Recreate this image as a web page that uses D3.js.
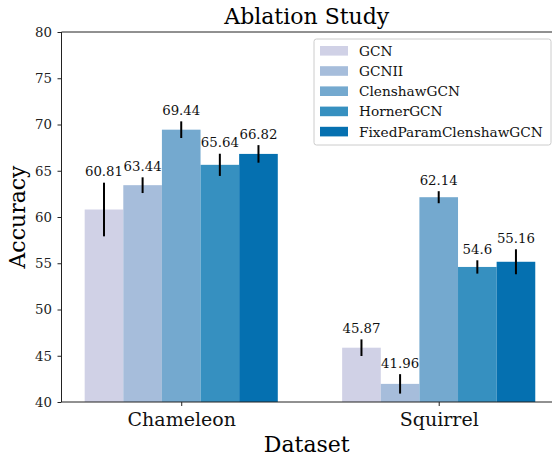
<!DOCTYPE html>
<html>
<head>
<meta charset="utf-8">
<script src="https://cdn.jsdelivr.net/npm/d3@7"></script>
<style>
  body { margin: 0; background: #fff; }
  svg text { font-family: "DejaVu Serif", serif; }
</style>
</head>
<body>
<div id="chart"></div>
<script>
(function() {
  var datasets = ["Chameleon", "Squirrel"];
  var models = ["GCN", "GCNII", "ClenshawGCN", "HornerGCN", "FixedParamClenshawGCN"];
  var colors = ["#d0d1e6", "#a6bddb", "#74a9cf", "#3690c0", "#0570b0"];
  // accuracy per model, one value per dataset
  var means = [
    [60.81, 45.87],
    [63.44, 41.96],
    [69.44, 62.14],
    [65.64, 54.6],
    [66.82, 55.16]
  ];
  var stds = [
    [2.9, 0.9],
    [0.85, 1.05],
    [0.9, 0.65],
    [1.2, 0.72],
    [0.95, 1.35]
  ];
  var yTicks = [40, 45, 50, 55, 60, 65, 70, 75, 80];

  var width = 553, height = 457;
  var margin = {top: 32, right: 1, bottom: 55, left: 61.5};

  var svg = d3.select("#chart").append("svg")
      .attr("width", width)
      .attr("height", height);

  // category index -> pixel; groups sit at 0 and 1
  var x = d3.scaleLinear()
      .domain([-0.465, 1.44])
      .range([margin.left, width - margin.right]);
  var y = d3.scaleLinear()
      .domain([40, 80])
      .range([height - margin.bottom, margin.top]);

  var barW = 0.15;

  var rows = [];
  models.forEach(function(m, i) {
    datasets.forEach(function(ds, j) {
      rows.push({model: i, ds: j, value: means[i][j], err: stds[i][j]});
    });
  });
  var off = function(d) { return d.ds + (d.model - 2) * barW; };

  svg.selectAll(".bar")
    .data(rows)
    .enter().append("rect")
      .attr("class", "bar")
      .attr("x", function(d) { return x(off(d) - barW / 2); })
      .attr("width", function(d) { return x(off(d) + barW / 2) - x(off(d) - barW / 2); })
      .attr("y", function(d) { return y(d.value); })
      .attr("height", function(d) { return y(40) - y(d.value); })
      .attr("fill", function(d) { return colors[d.model]; });

  svg.selectAll(".err")
    .data(rows)
    .enter().append("line")
      .attr("class", "err")
      .attr("x1", function(d) { return x(off(d)); })
      .attr("x2", function(d) { return x(off(d)); })
      .attr("y1", function(d) { return y(d.value - d.err); })
      .attr("y2", function(d) { return y(d.value + d.err); })
      .attr("stroke", "#000")
      .attr("stroke-width", 2);

  svg.selectAll(".val")
    .data(rows)
    .enter().append("text")
      .attr("class", "val")
      .attr("x", function(d) { return x(off(d)); })
      .attr("y", function(d) { return y(d.value + d.err) - 6.5; })
      .attr("text-anchor", "middle")
      .style("font-size", "13.3px")
      .attr("fill", "#111")
      .text(function(d) { return d.value; });

  // axes
  var yAxis = svg.append("g")
      .attr("transform", "translate(" + margin.left + ",0)")
      .call(d3.axisLeft(y).tickValues(yTicks).tickSize(4).tickPadding(5.5));
  var xAxis = svg.append("g")
      .attr("transform", "translate(0," + (height - margin.bottom) + ")")
      .call(d3.axisBottom(x).tickValues([0, 1]).tickSize(4)
        .tickFormat(function(d) { return datasets[d]; }));

  yAxis.select(".domain").remove();
  xAxis.select(".domain").remove();
  yAxis.selectAll("text").style("font-size", "13.3px").attr("fill", "#222");
  xAxis.selectAll("text").style("font-size", "19px").attr("fill", "#111")
      .attr("dy", null).attr("y", 24);
  svg.selectAll(".tick line").attr("stroke", "#222");

  // spines
  var x0 = margin.left, x1 = width - margin.right, yb = y(40), yt = y(80);
  svg.append("line").attr("x1", x0).attr("x2", x0).attr("y1", yt).attr("y2", yb)
      .attr("stroke", "#222").attr("stroke-width", 1);
  svg.append("line").attr("x1", x0).attr("x2", x1).attr("y1", yb).attr("y2", yb)
      .attr("stroke", "#222").attr("stroke-width", 1);
  svg.append("line").attr("x1", x0).attr("x2", x1).attr("y1", yt).attr("y2", yt)
      .attr("stroke", "#222").attr("stroke-width", 1);

  // titles
  svg.append("text")
      .attr("x", (x0 + x1) / 2).attr("y", 23.5)
      .attr("text-anchor", "middle")
      .style("font-size", "22px")
      .text("Ablation Study");
  svg.append("text")
      .attr("x", (x0 + x1) / 2).attr("y", 451.5)
      .attr("text-anchor", "middle")
      .style("font-size", "22px")
      .text("Dataset");
  svg.append("text")
      .attr("transform", "translate(25," + ((yt + yb) / 2) + ") rotate(-90)")
      .attr("text-anchor", "middle")
      .style("font-size", "22px")
      .text("Accuracy");

  // legend
  var lg = svg.append("g").attr("transform", "translate(314,39)");
  lg.append("rect")
      .attr("width", 237).attr("height", 106)
      .attr("rx", 2.5)
      .attr("fill", "#fff").attr("fill-opacity", 0.8)
      .attr("stroke", "#ccc");
  var item = lg.selectAll(".item")
    .data(models)
    .enter().append("g")
      .attr("class", "item")
      .attr("transform", function(d, i) { return "translate(0," + (11.8 + i * 20.2) + ")"; });
  item.append("rect")
      .attr("x", 6).attr("y", -4.8)
      .attr("width", 28).attr("height", 9.6)
      .attr("fill", function(d, i) { return colors[i]; });
  item.append("text")
      .attr("x", 45).attr("y", 4.9)
      .style("font-size", "13.7px")
      .attr("fill", "#111")
      .text(function(d) { return d; });
})();
</script>
</body>
</html>
